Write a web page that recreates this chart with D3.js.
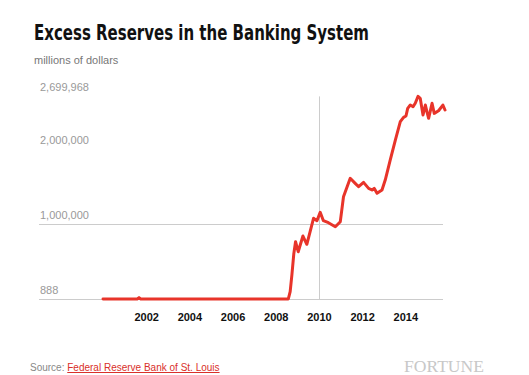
<!DOCTYPE html>
<html><head><meta charset="utf-8">
<script src="https://cdn.jsdelivr.net/npm/d3@7"></script>
<style>body{margin:0;background:#fff;} svg{display:block;}</style>
</head><body>
<svg id="c" width="529" height="375"></svg>
<script>
// ---- data (millions of dollars) ----
const dates = [
 "2000-01-01","2000-06-01","2001-01-01","2001-08-01","2001-09-01","2001-10-01",
 "2002-06-01","2003-01-01","2003-06-01","2004-01-01","2004-08-01","2005-01-01",
 "2005-08-01","2006-01-01","2006-08-01","2007-01-01","2007-08-01","2008-01-01",
 "2008-08-01","2008-09-01","2008-10-01","2008-11-01","2008-12-01","2009-01-15",
 "2009-04-05","2009-06-10","2009-10-01","2009-11-28","2010-01-22","2010-03-17",
 "2010-06-10","2010-10-05","2010-12-28","2011-02-20","2011-06-14","2011-09-06",
 "2011-11-03","2012-01-25","2012-04-20","2012-06-17","2012-07-23","2012-09-09",
 "2012-12-02","2013-01-26","2013-04-20","2013-07-16","2013-10-08","2013-12-02",
 "2014-01-12","2014-02-10","2014-03-26","2014-05-12","2014-06-18","2014-08-04",
 "2014-09-10","2014-10-27","2014-12-06","2015-01-01","2015-01-30","2015-03-29",
 "2015-05-05","2015-07-17","2015-09-28","2015-11-03"
];
const values = [
 1200,1000,1100,1300,19000,1500,
 1400,1600,1800,1700,1500,1800,
 1600,1700,1800,1600,1900,1700,
 1900,100000,330000,600000,764000,631000,
 840000,730000,1076000,1044000,1156000,1044000,
 1017000,964000,1031000,1363000,1609000,1542000,
 1497000,1555000,1475000,1453000,1475000,1409000,
 1453000,1586000,1852000,2119000,2363000,2421000,
 2439000,2541000,2585000,2563000,2608000,2699968,
 2674000,2452000,2585000,2496000,2408000,2608000,
 2474000,2509000,2585000,2519000
];
const yTickValues = [888, 1000000, 2000000, 2699968];
const yGridValues = [888, 1000000];
const xTickYears = [2002, 2004, 2006, 2008, 2010, 2012, 2014];
const xMarkYear = 2010;

const title = "Excess Reserves in the Banking System";
const subtitle = "millions of dollars";

// ---- drawing ----
const parse = d3.timeParse("%Y-%m-%d");
const data = dates.map((d, i) => ({ date: parse(d), value: values[i] }));

const svg = d3.select("#c");
const x = d3.scaleTime().domain(d3.extent(data, d => d.date)).range([103, 445]);
const y = d3.scaleLinear().domain([d3.min(values), d3.max(values)]).range([299, 96.4]);
const gridLeft = 39, gridRight = 443;

svg.append("text").attr("x", 34).attr("y", 40)
  .attr("font-family", "'Liberation Sans Narrow','DejaVu Sans Condensed','Liberation Sans',Arial,sans-serif")
  .attr("font-weight", "bold").attr("font-size", 22).attr("fill", "#111")
  .attr("textLength", 335).attr("lengthAdjust", "spacingAndGlyphs")
  .text(title);

svg.append("text").attr("x", 34).attr("y", 64)
  .attr("font-family", "'Liberation Sans',Arial,sans-serif")
  .attr("font-size", 11).attr("fill", "#777").text(subtitle);

// gridlines
svg.append("g").selectAll("line").data(yGridValues).join("line")
  .attr("x1", gridLeft).attr("x2", gridRight)
  .attr("y1", d => Math.round(y(d)) + 0.5).attr("y2", d => Math.round(y(d)) + 0.5)
  .attr("stroke", "#cccccc").attr("stroke-width", 1);

// vertical marker at 2010
const xm = Math.round(x(new Date(xMarkYear, 0, 1))) + 0.5;
svg.append("line").attr("x1", xm).attr("x2", xm)
  .attr("y1", y(d3.max(values))).attr("y2", y(d3.min(values)))
  .attr("stroke", "#cccccc").attr("stroke-width", 1);

// y labels
svg.append("g").selectAll("text").data(yTickValues).join("text")
  .attr("x", 40).attr("y", d => y(d) - 5)
  .attr("font-family", "'Liberation Sans',Arial,sans-serif")
  .attr("font-size", 11).attr("fill", "#999")
  .text(d => d3.format(",")(d));

// x labels via axis
const xAxis = d3.axisBottom(x)
  .tickValues(xTickYears.map(yr => new Date(yr, 0, 1)))
  .tickFormat(d3.timeFormat("%Y")).tickSize(0).tickPadding(0);
const gx = svg.append("g").attr("transform", "translate(0,313)").call(xAxis);
gx.select(".domain").remove();
gx.selectAll("text").attr("font-family", "'Liberation Sans',Arial,sans-serif")
  .attr("font-size", 11).attr("font-weight", "bold").attr("fill", "#111");

// series line
const line = d3.line().x(d => x(d.date)).y(d => y(d.value));
svg.append("path").datum(data).attr("d", line)
  .attr("fill", "none").attr("stroke", "#e8342a").attr("stroke-width", 3)
  .attr("stroke-linejoin", "round").attr("stroke-linecap", "round");

// footer
const src = svg.append("text").attr("x", 30).attr("y", 371)
  .attr("font-family", "'Liberation Sans',Arial,sans-serif").attr("font-size", 10);
src.append("tspan").attr("fill", "#888").text("Source: ");
src.append("tspan").attr("fill", "#d9302a").attr("text-decoration", "underline")
  .text("Federal Reserve Bank of St. Louis");

svg.append("text").attr("x", 404).attr("y", 371.5)
  .attr("font-family", "'Liberation Serif','Times New Roman',serif")
  .attr("font-size", 17.5).attr("fill", "#c8c8c8")
  .attr("textLength", 80).attr("lengthAdjust", "spacingAndGlyphs")
  .text("FORTUNE");
</script>
</body></html>
